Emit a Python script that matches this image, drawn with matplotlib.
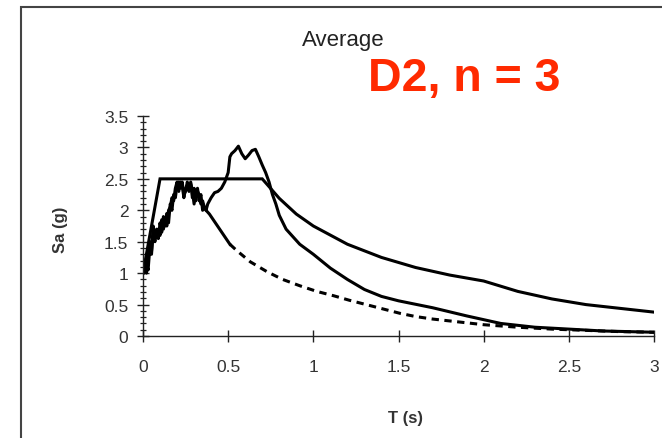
import numpy as np
import matplotlib
matplotlib.use("Agg")
from matplotlib import pyplot as plt
from matplotlib.patches import Rectangle
from matplotlib.ticker import MultipleLocator

# design spectrum
T_design = [0.0, 0.1, 0.7, 0.8, 0.9, 1.0, 1.2, 1.4, 1.6, 1.8, 2.0, 2.2, 2.4, 2.6, 2.8, 3.0]
Sa_design = [1.0, 2.5, 2.5, 2.19, 1.94, 1.75, 1.46, 1.25, 1.09, 0.97, 0.875, 0.71, 0.59, 0.50, 0.44, 0.38]

# average of records (solid, jagged)
T_avg = [0.0, 0.02, 0.03, 0.04, 0.05, 0.06, 0.07, 0.08, 0.09, 0.10, 0.11, 0.12, 0.13, 0.14,
         0.15, 0.16, 0.17, 0.18, 0.19, 0.20, 0.21, 0.22, 0.23, 0.24, 0.25, 0.26, 0.27, 0.28,
         0.29, 0.30, 0.31, 0.32, 0.33, 0.34, 0.35, 0.36, 0.37, 0.38, 0.40, 0.42, 0.44, 0.46,
         0.48, 0.50, 0.51, 0.52, 0.54, 0.56, 0.58, 0.60, 0.62, 0.64, 0.66, 0.68, 0.70, 0.72,
         0.74, 0.76, 0.78, 0.80, 0.84, 0.88, 0.92, 1.0, 1.1, 1.2, 1.3, 1.4, 1.5, 1.7, 1.9,
         2.1, 2.3, 2.5, 2.7, 3.0]
Sa_avg = [1.0, 1.15, 1.05, 1.4, 1.3, 1.65, 1.5, 1.7, 1.55, 1.8, 1.65, 1.9, 1.75, 1.95,
          1.8, 2.1, 2.0, 2.25, 2.2, 2.4, 2.45, 2.35, 2.45, 2.25, 2.3, 2.45, 2.35, 2.42,
          2.2, 2.35, 2.15, 2.3, 2.25, 2.1, 2.15, 2.05, 2.0, 2.1, 2.2, 2.28, 2.3, 2.35,
          2.45, 2.6, 2.85, 2.9, 2.95, 3.02, 2.9, 2.82, 2.88, 2.95, 2.97, 2.85, 2.72, 2.6,
          2.45, 2.25, 2.1, 1.92, 1.7, 1.58, 1.46, 1.3, 1.08, 0.9, 0.74, 0.63, 0.56, 0.45, 0.32,
          0.2, 0.14, 0.11, 0.08, 0.06]

# second record set: jagged start (drawn solid) then dashed tail
T_d1 = [0.0, 0.01, 0.02, 0.03, 0.04, 0.05, 0.06, 0.07, 0.08, 0.09, 0.10, 0.11, 0.12, 0.13,
        0.14, 0.15, 0.16, 0.17, 0.18, 0.19, 0.20, 0.21, 0.22, 0.23, 0.24, 0.25, 0.26, 0.27,
        0.28, 0.29, 0.30, 0.31, 0.32, 0.33, 0.34, 0.35, 0.36, 0.37, 0.39, 0.42, 0.45, 0.48, 0.51]
Sa_d1 = [1.0, 1.2, 1.0, 1.3, 1.5, 1.35, 1.75, 1.55, 1.6, 1.7, 1.6, 1.85, 1.7, 1.85,
         1.75, 2.0, 2.05, 2.2, 2.15, 2.35, 2.45, 2.3, 2.45, 2.4, 2.2, 2.35, 2.4, 2.3,
         2.45, 2.3, 2.1, 2.3, 2.35, 2.15, 2.25, 2.0, 2.05, 2.0, 1.94, 1.82, 1.70, 1.58, 1.46]
T_d2 = [0.51, 0.55, 0.63, 0.73, 0.82, 0.92, 1.02, 1.12, 1.21, 1.31, 1.41, 1.51, 1.6, 1.7,
        1.8, 1.9, 2.0, 2.2, 2.4, 2.6, 2.8, 3.0]
Sa_d2 = [1.46, 1.36, 1.18, 1.02, 0.90, 0.80, 0.71, 0.64, 0.57, 0.50, 0.43, 0.36, 0.31, 0.27,
         0.24, 0.21, 0.18, 0.14, 0.11, 0.09, 0.07, 0.06]

x_ticks = [0, 0.5, 1, 1.5, 2, 2.5, 3]
x_labels = ["0", "0.5", "1", "1.5", "2", "2.5", "3"]
y_ticks = [0, 0.5, 1, 1.5, 2, 2.5, 3, 3.5]
y_labels = ["0", "0.5", "1", "1.5", "2", "2.5", "3", "3.5"]

plt.rcParams['font.family'] = ['Liberation Sans', 'DejaVu Sans']

fig = plt.figure(figsize=(6.62, 4.39), dpi=100)
ax = fig.add_axes([0.216, 0.2323, 0.772, 0.5012])

lw = 2.2
ax.plot(T_design, Sa_design, color='black', lw=lw, solid_joinstyle='miter')
ax.plot(T_avg, Sa_avg, color='black', lw=lw)
ax.plot(T_d1, Sa_d1, color='black', lw=lw)
ax.plot(T_d2, Sa_d2, color='black', lw=lw, linestyle=(0, (2.4, 1.8)))

ax.set_xlim(0, 3)
ax.set_ylim(0, 3.5)
ax.set_xticks(x_ticks)
ax.set_xticklabels(x_labels)
ax.set_yticks(y_ticks)
ax.set_yticklabels(y_labels)
ax.yaxis.set_minor_locator(MultipleLocator(0.1))

for s in ['top', 'right']:
    ax.spines[s].set_visible(False)
for s in ['left', 'bottom']:
    ax.spines[s].set_linewidth(1.0)
    ax.spines[s].set_color('#222222')

ax.tick_params(axis='x', which='major', direction='inout', length=9, width=1.0,
               labelsize=12.5, labelcolor='#333333', pad=12, color='#222222')
ax.tick_params(axis='y', which='major', direction='inout', length=9, width=1.0,
               labelsize=12.5, labelcolor='#333333', pad=6, color='#222222')
ax.tick_params(axis='y', which='minor', direction='inout', length=4.5, width=0.9,
               color='#222222')

ax.set_xlabel("T (s)", fontsize=12, fontweight='bold', color='#333333')
ax.set_ylabel("Sa (g)", fontsize=12, fontweight='bold', color='#333333')
ax.xaxis.set_label_coords(0.513, -0.336)
ax.yaxis.set_label_coords(-0.147, 0.486)

fig.text(0.518, 0.908, "Average", ha='center', va='center', fontsize=16, color='#222222')
fig.text(0.556, 0.82, "D2, n = 3", ha='left', va='center', fontsize=33.5,
         fontweight='bold', color='#ff2a00')

fig.patches.append(Rectangle((0.0317, -0.02), 1.0, 1.0018, transform=fig.transFigure,
                             fill=False, edgecolor='#444444', lw=1.5))

fig.savefig("out.png", dpi=100)
